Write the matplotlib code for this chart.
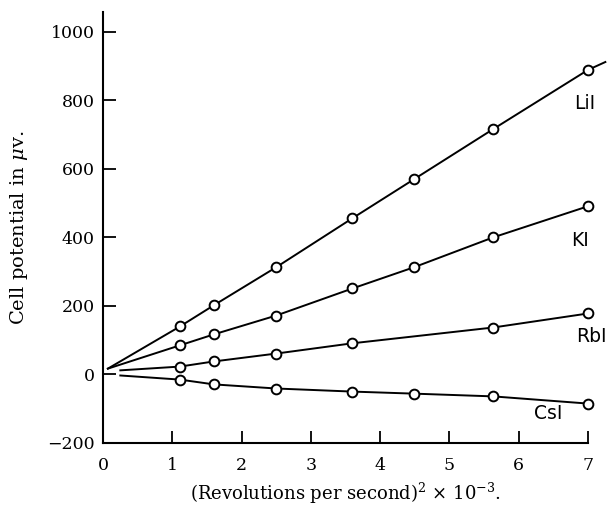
import numpy as np
import matplotlib
matplotlib.use('Agg')
import matplotlib.pyplot as plt

plt.rcParams['font.family'] = ['DejaVu Serif']
plt.rcParams['mathtext.fontset'] = 'dejavuserif'

# (revolutions per second)^2 x 10^-3
rev_sq = [1.11, 1.6, 2.5, 3.6, 4.49, 5.63, 7.0]

# cell potential in microvolts
lii = [140, 202, 313, 456, 570, 716, 889]
ki = [85, 117, 172, 251, 313, 400, 491]
rbi_x = [1.11, 1.6, 2.5, 3.6, 5.63, 7.0]
rbi = [23, 38, 61, 91, 137, 178]
csi = [-15, -29, -41, -50, -56, -64, -85]

# where each hand-drawn line starts near the origin (and LiI runs on past the last point)
line_start_x = {'LiI': 0.07, 'KI': 0.07, 'RbI': 0.25, 'CsI': 0.25}
line_start_y = {'LiI': 17, 'KI': 17, 'RbI': 12, 'CsI': -3}
lii_end = (7.25, 912)

labels = ['LiI', 'KI', 'RbI', 'CsI']
label_x = [6.95, 6.88, 7.05, 6.43]
label_y = [792, 392, 112, -114]

x_ticks = [0, 1, 2, 3, 4, 5, 6, 7]
y_ticks = [-200, 0, 200, 400, 600, 800, 1000]

fig = plt.figure(figsize=(6.11, 5.08), dpi=100)
ax = fig.add_axes([0.1686, 0.128, 0.7938, 0.8484])

series = [
    ('LiI', rev_sq, lii),
    ('KI', rev_sq, ki),
    ('RbI', rbi_x, rbi),
    ('CsI', rev_sq, csi),
]

for name, xs, ys in series:
    lx = [line_start_x[name]] + list(xs)
    ly = [line_start_y[name]] + list(ys)
    if name == 'LiI':
        lx.append(lii_end[0])
        ly.append(lii_end[1])
    ax.plot(lx, ly, color='black', lw=1.4, clip_on=False, zorder=2)
    ax.plot(xs, ys, linestyle='none', marker='o', ms=7, mfc='white',
            mec='black', mew=1.4, clip_on=False, zorder=3)

for lab, tx, ty in zip(labels, label_x, label_y):
    ax.text(tx, ty, lab, ha='center', va='center', fontsize=13.5,
            family='DejaVu Sans', color='black')

ax.set_xlim(0, 7)
ax.set_ylim(-200, 1058)
ax.set_xticks(x_ticks)
ax.set_yticks(y_ticks)
ax.set_yticklabels(['\u2212200', '0', '200', '400', '600', '800', '1000'])

for side in ['top', 'right']:
    ax.spines[side].set_visible(False)
for side in ['left', 'bottom']:
    ax.spines[side].set_linewidth(1.5)

ax.tick_params(axis='both', direction='in', length=9, width=1.3,
               labelsize=12.5, colors='black')
ax.tick_params(axis='x', pad=10)
ax.tick_params(axis='y', pad=6)

ax.set_xlabel(r'(Revolutions per second)$^2$ $\times$ 10$^{-3}$.', fontsize=13, labelpad=5)
ax.set_ylabel(r'Cell potential in $\mu$v.', fontsize=14, labelpad=12)

fig.savefig('out.png', dpi=100)
